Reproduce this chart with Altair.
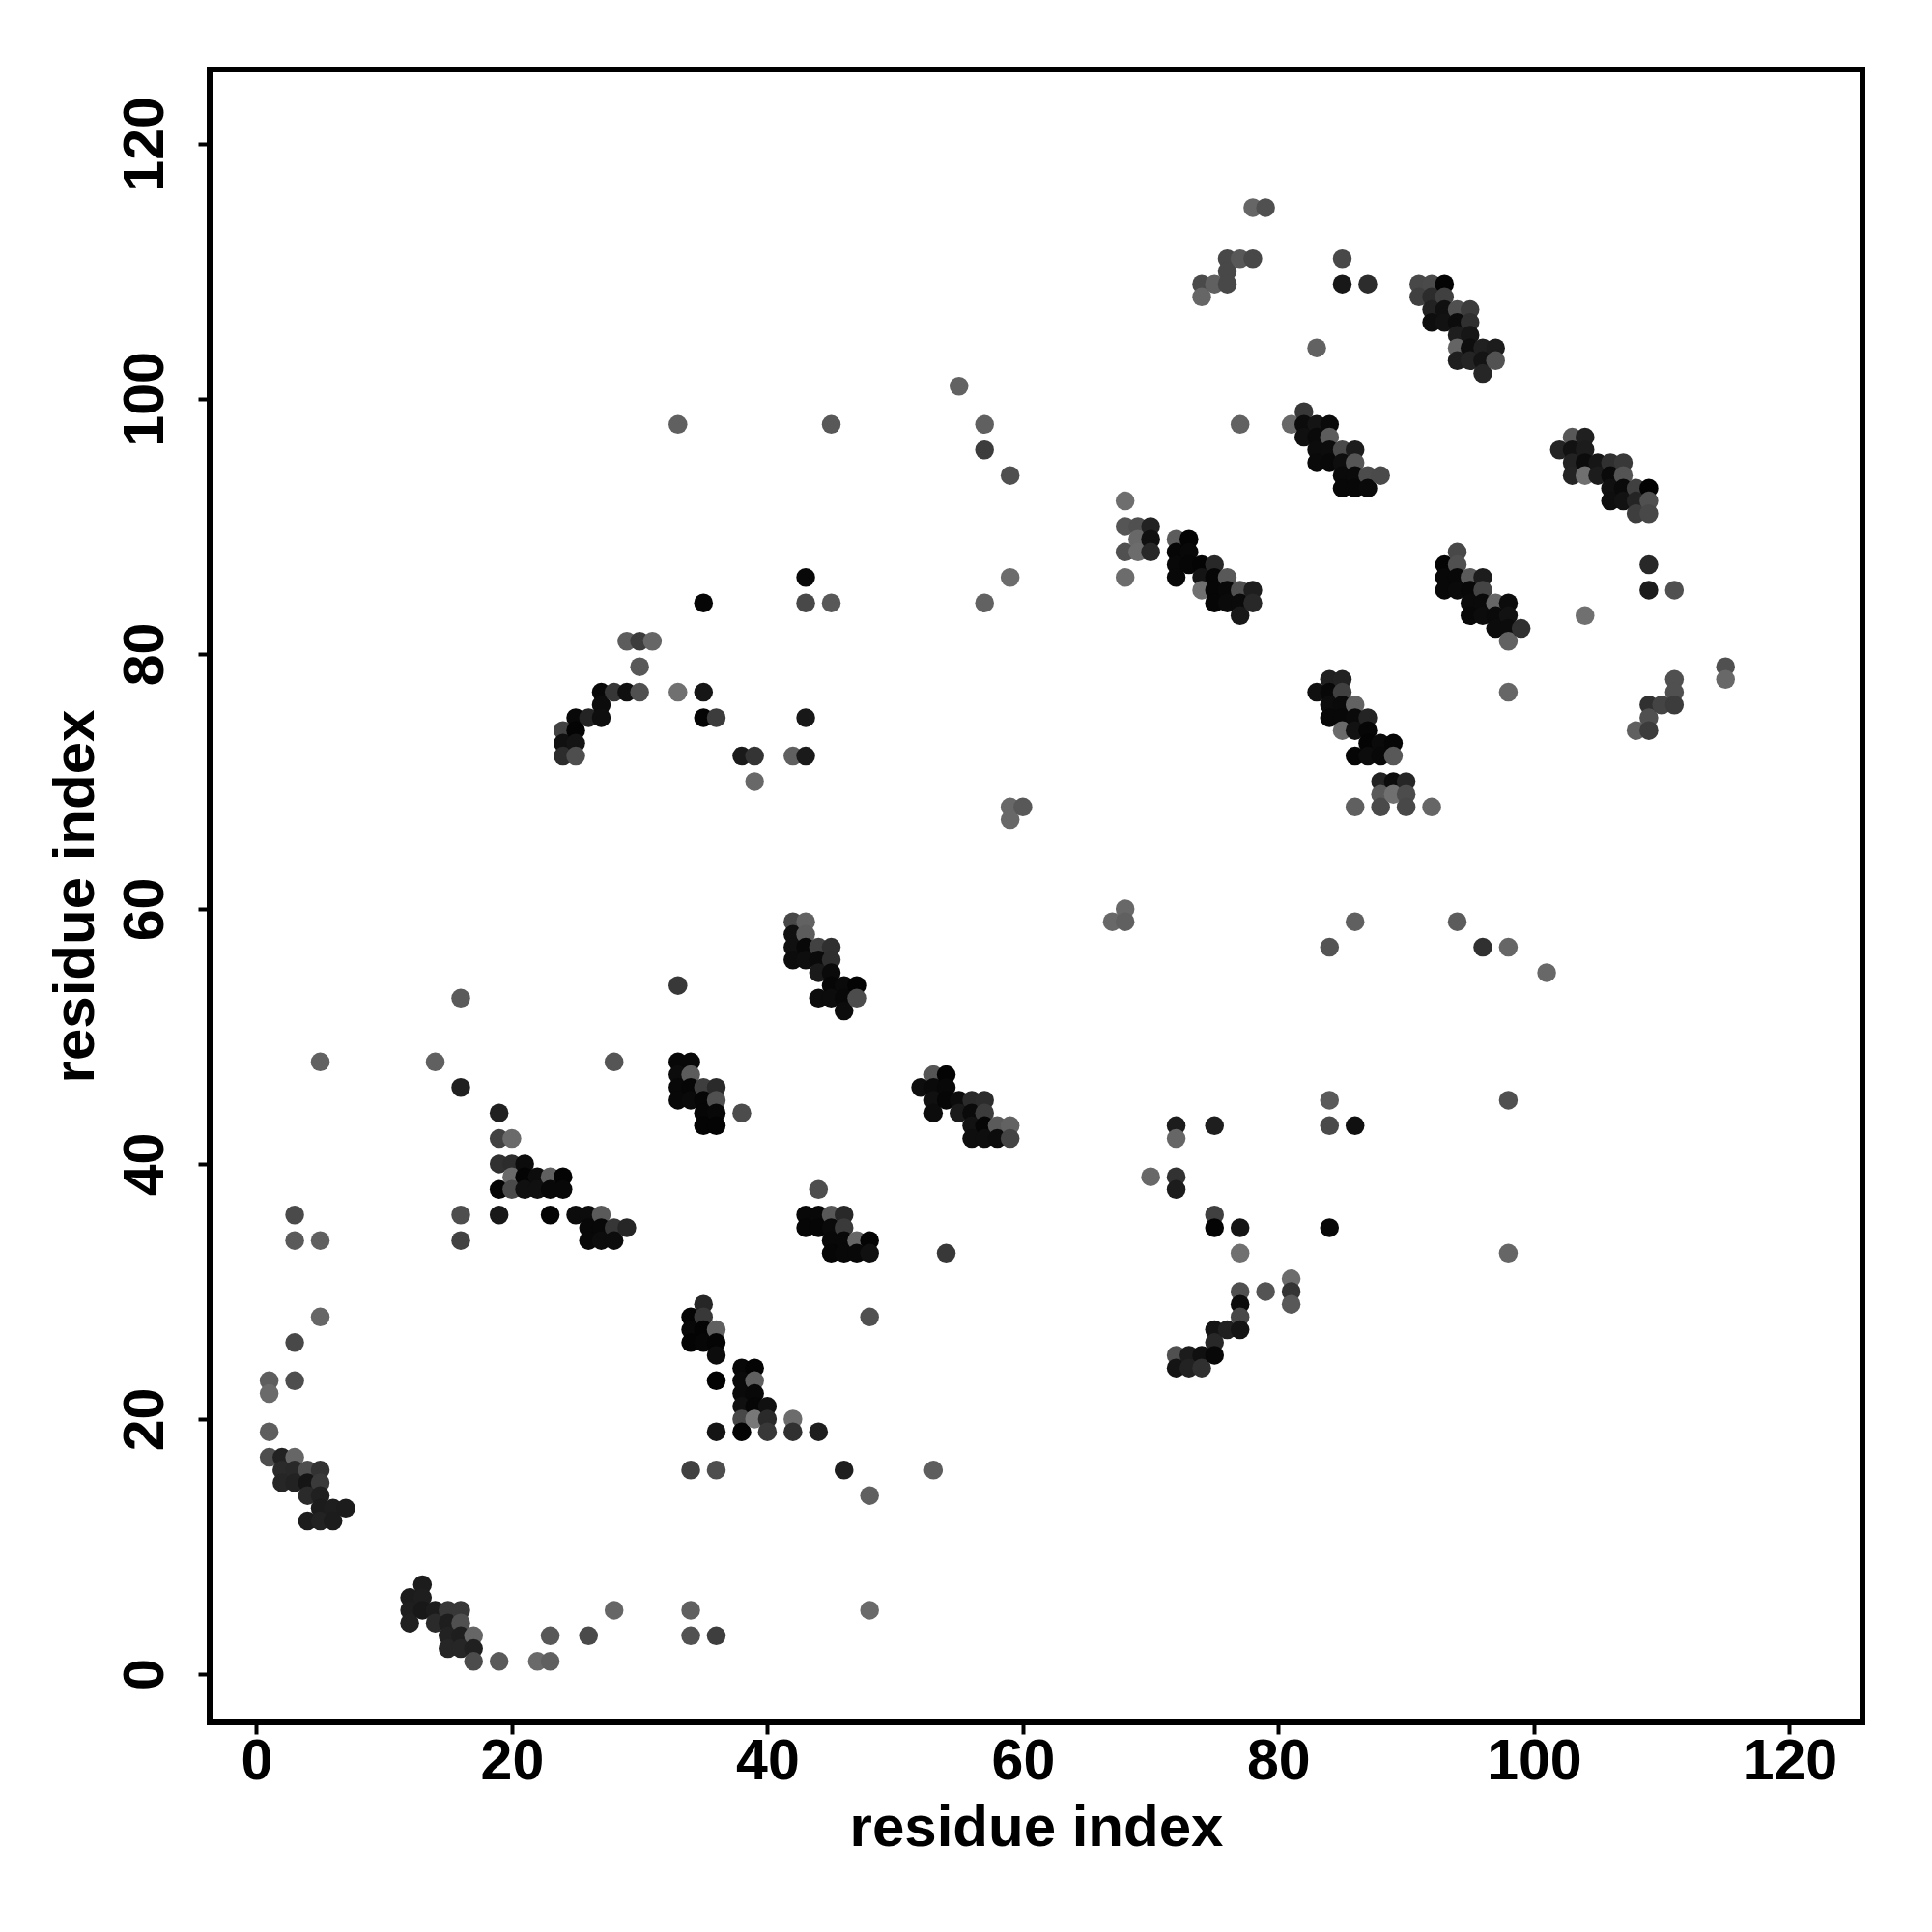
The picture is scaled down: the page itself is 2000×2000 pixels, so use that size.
import altair as alt
import pandas as pd

# (residue i, residue j, grey level)
helix_a = [(1,23,0x5e),(1,22,0x6a),(1,19,0x5e),(1,17,0x4e),(2,17,0x22),(3,17,0x66),(2,16,0x2a),(3,16,0x28),(4,16,0x4e),(5,16,0x33),
 (2,15,0x26),(3,15,0x22),(4,15,0x15),(5,15,0x3a),(4,14,0x2a),(5,14,0x20),(5,13,0x1c),(6,13,0x1e),(7,13,0x1c),(4,12,0x1c),(5,12,0x22),(6,12,0x1c),
 (5,28,0x66),(3,26,0x48),(3,23,0x4e),(3,36,0x4a),(3,34,0x5a),(5,34,0x60),(5,48,0x62)]
helix_b = [(13,7,0x1c),(12,6,0x1c),(13,6,0x1e),(12,5,0x1e),(13,5,0x18),(14,5,0x1c),(15,5,0x38),(16,5,0x38),(12,4,0x20),(14,4,0x2a),(15,4,0x1e),(16,4,0x50),
 (15,3,0x22),(16,3,0x1e),(17,3,0x66),(15,2,0x26),(16,2,0x26),(17,2,0x20),(17,1,0x4c),(19,1,0x5a),(22,1,0x6a),(23,1,0x60),(23,3,0x58),(26,3,0x4a),(28,5,0x66),
 (34,5,0x60),(34,3,0x52),(36,3,0x3e),(48,5,0x6a),(34,16,0x40),(36,16,0x4e),(46,16,0x1e),(53,16,0x5e),(48,14,0x60),(48,28,0x50)]
cluster_c = [(35,29,0x26),(34,28,0x04),(35,28,0x38),(34,27,0x08),(35,27,0x04),(36,27,0x60),(34,26,0x04),(35,26,0x06),(36,26,0x04),(36,25,0x0c),(36,23,0x02),
 (38,24,0x08),(39,24,0x04),(38,23,0x0a),(39,23,0x60),(38,22,0x0a),(39,22,0x08),(38,21,0x10),(39,21,0x06),(40,21,0x10),(38,20,0x48),(39,20,0x78),(40,20,0x2a),(42,20,0x6c),
 (36,19,0x14),(38,19,0x04),(40,19,0x38),(42,19,0x30),(44,19,0x1e),(54,33,0x38)]
cluster_d = [(16,53,0x5a),(33,54,0x38),(14,48,0x60),(28,48,0x55),(16,46,0x20),(19,44,0x20),(19,42,0x42),(20,42,0x6a),(19,40,0x30),(20,40,0x2c),(21,40,0x0c),
 (20,39,0x6a),(21,39,0x04),(22,39,0x0c),(23,39,0x60),(24,39,0x04),(19,38,0x04),(20,38,0x4a),(21,38,0x10),(22,38,0x10),(23,38,0x08),(24,38,0x08),
 (16,36,0x4e),(19,36,0x18),(23,36,0x04),(25,36,0x0c),(26,36,0x0c),(27,36,0x5a),(26,35,0x08),(27,35,0x08),(28,35,0x36),(29,35,0x26),(16,34,0x42),(26,34,0x08),(27,34,0x0c),(28,34,0x0c)]
cluster_e = [(33,48,0x08),(34,48,0x08),(33,47,0x0c),(34,47,0x5c),(33,46,0x08),(34,46,0x06),(35,46,0x3e),(36,46,0x2a),(33,45,0x08),(34,45,0x0a),(35,45,0x06),(36,45,0x50),
 (35,44,0x06),(36,44,0x08),(38,44,0x4c),(35,43,0x04),(36,43,0x04)]
cluster_f = [(42,59,0x48),(43,59,0x62),(42,58,0x10),(43,58,0x5c),(42,57,0x10),(43,57,0x08),(44,57,0x42),(45,57,0x30),(42,56,0x0c),(43,56,0x0e),(44,56,0x0a),(45,56,0x2e),
 (44,55,0x1a),(45,55,0x0a),(45,54,0x06),(46,54,0x0a),(47,54,0x04),(44,53,0x0c),(45,53,0x0c),(46,53,0x08),(47,53,0x4c),(46,52,0x0c)]
cluster_g = [(53,47,0x55),(54,47,0x04),(52,46,0x0e),(53,46,0x0a),(54,46,0x08),(53,45,0x10),(54,45,0x06),(55,45,0x0c),(56,45,0x2a),(57,45,0x2c),(53,44,0x0c),(55,44,0x1a),(56,44,0x0a),(57,44,0x3c),
 (56,43,0x12),(57,43,0x06),(58,43,0x5a),(59,43,0x62),(56,42,0x0e),(57,42,0x0e),(58,42,0x0c),(59,42,0x44)]
cluster_h = [(44,38,0x4e),(43,36,0x08),(44,36,0x08),(45,36,0x58),(46,36,0x28),(43,35,0x06),(44,35,0x06),(45,35,0x0a),(46,35,0x3a),(45,34,0x08),(46,34,0x08),(47,34,0x66),(48,34,0x04),
 (45,33,0x06),(46,33,0x08),(47,33,0x08),(48,33,0x10)]
cluster_i = [(72,43,0x1c),(72,42,0x66),(75,43,0x1e),(84,45,0x5a),(84,43,0x4a),(86,43,0x10),(70,39,0x68),(72,39,0x32),(72,38,0x1c),(75,36,0x40),(75,35,0x04),(77,35,0x14),(84,35,0x08),
 (77,33,0x70),(77,30,0x50),(79,30,0x54),(81,31,0x6c),(81,30,0x34),(81,29,0x58),(77,29,0x0c),(77,28,0x48),(75,27,0x14),(76,27,0x20),(77,27,0x14),(75,26,0x28),
 (72,25,0x50),(73,25,0x1c),(74,25,0x10),(75,25,0x08),(72,24,0x14),(73,24,0x22),(74,24,0x30)]
cluster_j = [(35,84,0x06),(43,86,0x08),(43,84,0x48),(45,84,0x58),(29,81,0x5c),(30,81,0x3c),(31,81,0x66),(30,79,0x58),(27,77,0x08),(28,77,0x36),(29,77,0x10),(30,77,0x50),(33,77,0x70),(35,77,0x16),
 (27,76,0x0c),(25,75,0x08),(26,75,0x24),(27,75,0x0e),(35,75,0x04),(36,75,0x3c),(43,75,0x18),(24,74,0x42),(25,74,0x04),(24,73,0x10),(25,73,0x14),(24,72,0x2c),(25,72,0x4e),
 (38,72,0x1a),(39,72,0x34),(42,72,0x60),(43,72,0x1a),(39,70,0x68)]
cluster_k = [(68,92,0x6e),(68,90,0x55),(69,90,0x50),(70,90,0x22),(69,89,0x68),(70,89,0x10),(68,88,0x50),(69,88,0x6c),(70,88,0x28),(68,86,0x6c),
 (72,89,0x5c),(73,89,0x04),(72,88,0x06),(73,88,0x08),(72,87,0x08),(73,87,0x06),(74,87,0x04),(75,87,0x28),(72,86,0x08),(74,86,0x14),(75,86,0x06),(76,86,0x58),
 (74,85,0x70),(75,85,0x06),(76,85,0x08),(77,85,0x50),(78,85,0x1e),(75,84,0x06),(76,84,0x0a),(77,84,0x0a),(78,84,0x28),(77,83,0x18)]
cluster_l = [(82,99,0x38),(81,98,0x68),(82,98,0x0c),(83,98,0x14),(84,98,0x0a),(82,97,0x10),(83,97,0x0a),(84,97,0x5c),(83,96,0x0c),(84,96,0x0c),(85,96,0x4a),(86,96,0x1c),
 (83,95,0x0a),(84,95,0x08),(85,95,0x0e),(86,95,0x56),(85,94,0x0a),(86,94,0x0a),(87,94,0x4c),(88,94,0x4a),(85,93,0x08),(86,93,0x08),(87,93,0x0a)]
cluster_m = [(94,88,0x48),(93,87,0x04),(94,87,0x50),(93,86,0x08),(94,86,0x08),(95,86,0x5a),(96,86,0x1c),(93,85,0x08),(94,85,0x0a),(95,85,0x08),(96,85,0x44),
 (95,84,0x0a),(96,84,0x0a),(97,84,0x66),(98,84,0x0c),(95,83,0x08),(96,83,0x0c),(97,83,0x0a),(98,83,0x12),(97,82,0x0c),(98,82,0x0c),(99,82,0x30),(98,81,0x62),(98,77,0x66)]
cluster_n = [(103,97,0x58),(104,97,0x20),(102,96,0x24),(103,96,0x12),(104,96,0x1c),(103,95,0x22),(104,95,0x0c),(105,95,0x16),(106,95,0x30),(107,95,0x38),
 (103,94,0x24),(104,94,0x70),(105,94,0x1c),(106,94,0x0a),(107,94,0x54),(106,93,0x10),(107,93,0x0a),(108,93,0x40),(109,93,0x02),(106,92,0x0e),(107,92,0x12),(108,92,0x24),(109,92,0x50),
 (108,91,0x3e),(109,91,0x48),(109,87,0x28),(109,85,0x1c),(111,85,0x50),(104,83,0x70)]
cluster_o = [(91,109,0x48),(92,109,0x4a),(93,109,0x04),(91,108,0x40),(92,108,0x2c),(93,108,0x40),(92,107,0x22),(93,107,0x10),(94,107,0x50),(95,107,0x3c),
 (92,106,0x0e),(93,106,0x12),(94,106,0x0c),(95,106,0x30),(94,105,0x1e),(95,105,0x16),(94,104,0x64),(95,104,0x0e),(96,104,0x20),(97,104,0x1c),(94,103,0x1e),(95,103,0x24),(96,103,0x14),(97,103,0x52),(96,102,0x26)]
cluster_p = [(84,78,0x20),(85,78,0x22),(83,77,0x10),(84,77,0x08),(85,77,0x40),(84,76,0x0c),(85,76,0x0a),(86,76,0x62),(84,75,0x08),(85,75,0x08),(86,75,0x0a),(87,75,0x24),
 (85,74,0x6a),(86,74,0x12),(87,74,0x06),(87,73,0x04),(88,73,0x0a),(89,73,0x06),(86,72,0x06),(87,72,0x0c),(88,72,0x08),(89,72,0x58),(88,70,0x22),(89,70,0x0c),(90,70,0x26),
 (88,69,0x5a),(89,69,0x70),(90,69,0x4c),(86,68,0x60),(88,68,0x4a),(90,68,0x48),(92,68,0x66)]
scattered = [(78,115,0x66),(79,115,0x50),(74,108,0x66),(74,109,0x4a),(75,109,0x60),(76,109,0x48),(76,110,0x48),(76,111,0x48),(77,111,0x58),(78,111,0x48),(85,111,0x48),(85,109,0x18),(87,109,0x2c),
 (83,104,0x62),(55,101,0x62),(57,98,0x60),(57,96,0x3c),(59,94,0x50),(59,86,0x6c),(57,84,0x62),(33,98,0x60),(45,98,0x58),(77,98,0x62),
 (108,74,0x60),(109,74,0x3c),(109,75,0x50),(109,76,0x30),(110,76,0x44),(111,76,0x3c),(111,77,0x50),(111,78,0x50),(115,79,0x50),(115,78,0x68),
 (59,68,0x68),(60,68,0x58),(59,67,0x68),(67,59,0x68),(68,59,0x60),(68,60,0x68),(84,57,0x54),(86,59,0x60),(94,59,0x5c),(96,57,0x30),(98,57,0x66),(101,55,0x68),(98,45,0x50),(98,33,0x66)]

tick_values = [0, 20, 40, 60, 80, 100, 120]
x_title = "residue index"
y_title = "residue index"

rows = (helix_a + helix_b + cluster_c + cluster_d + cluster_e + cluster_f + cluster_g + cluster_h + cluster_i
        + cluster_j + cluster_k + cluster_l + cluster_m + cluster_n + cluster_o + cluster_p + scattered)
df = pd.DataFrame(rows, columns=["i", "j", "g"]).drop_duplicates(["i", "j"])
df["c"] = ["#%02x%02x%02x" % (g, g, g) for g in df["g"]]
df = df.sort_values(["i", "j"], ascending=[True, False])

FONT = "Liberation Sans"
chart = (
    alt.Chart(df)
    .mark_circle(size=380, opacity=1, stroke=None)
    .encode(
        x=alt.X("i:Q", scale=alt.Scale(domain=[-3.66, 125.72], nice=False, zero=False),
                axis=alt.Axis(values=tick_values, title=x_title, grid=False, domain=False, format="d",
                              tickSize=12, tickWidth=4, tickColor="black",
                              labelFont=FONT, labelFontWeight="bold", labelFontSize=59, labelColor="black",
                              labelPadding=-1, labelOverlap=False, labelFlush=False,
                              titleFont=FONT, titleFontWeight="bold", titleFontSize=60, titleColor="black", titlePadding=10)),
        y=alt.Y("j:Q", scale=alt.Scale(domain=[-3.79, 125.83], nice=False, zero=False),
                axis=alt.Axis(values=tick_values, title=y_title, grid=False, domain=False, format="d",
                              tickSize=12, tickWidth=4, tickColor="black",
                              labelFont=FONT, labelFontWeight="bold", labelFontSize=59, labelColor="black",
                              labelAngle=270, labelAlign="center", labelBaseline="bottom",
                              labelPadding=25, labelOverlap=False, labelFlush=False,
                              titleFont=FONT, titleFontWeight="bold", titleFontSize=60, titleColor="black", titlePadding=12)),
        color=alt.Color("c:N", scale=None),
    )
    .properties(
        width=1711, height=1711,
        autosize=alt.AutoSizeParams(type="none"),
        padding={"left": 209, "top": 64, "right": 60, "bottom": 200},
        background="white",
    )
    .configure_view(stroke="black", strokeWidth=6, fill="white")
)
chart.save("out.html", embed_options={"renderer": "svg", "actions": False})
